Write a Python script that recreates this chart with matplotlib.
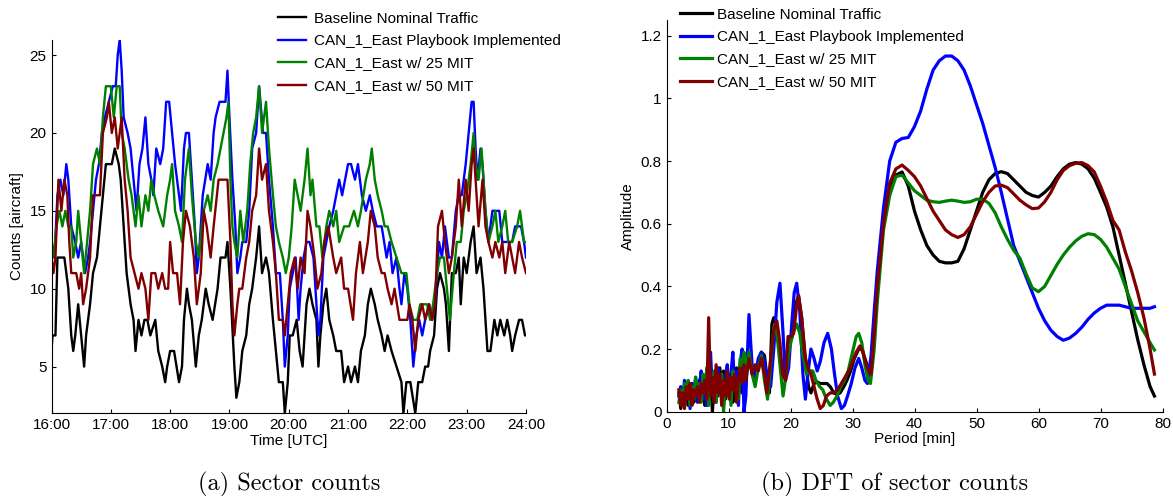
import numpy as np
import matplotlib
matplotlib.use('Agg')
import matplotlib.pyplot as plt

LABELS = ['Baseline Nominal Traffic', 'CAN_1_East Playbook Implemented',
          'CAN_1_East w/ 25 MIT', 'CAN_1_East w/ 50 MIT']
COLORS = ['#000000', '#0000ff', '#008000', '#800000']

# ---- (a) sector counts: minutes after 16:00 UTC, aircraft count ----
base_min = [0, 1, 4, 6, 13, 17, 20, 22, 24, 27, 30, 33, 35, 39, 42, 46, 49, 52, 55, 61, 64, 68, 70, 73, 76, 80,
            83, 85, 88, 91, 94, 97, 100, 105, 108, 112, 115, 117, 120, 124, 129, 132, 134, 137, 139, 142, 146, 149,
            152, 156, 159, 163, 168, 171, 176, 178, 181, 185, 187, 190, 193, 197, 200, 203, 207, 210, 213, 217, 220,
            224, 227, 230, 234, 236, 239, 241, 244, 248, 251, 254, 256, 258, 261, 264, 268, 270, 272, 275, 278, 281,
            285, 288, 293, 296, 300, 303, 307, 310, 313, 317, 320, 323, 327, 330, 334, 337, 340, 344, 349, 354, 356,
            359, 363, 368, 371, 375, 378, 381, 383, 387, 390, 393, 397, 399, 402, 405, 409, 412, 414, 417, 420, 424,
            427, 430, 434, 437, 439, 441, 444, 446, 448, 451, 454, 458, 461, 464, 466, 469, 473, 476, 479, 480]
base_cnt = [6, 7, 7, 12, 12, 10, 7, 6, 7, 9, 7, 5, 7, 9, 11, 12, 14, 16, 18, 18, 19, 18, 17, 14, 11, 9,
            8, 6, 8, 7, 8, 8, 7, 8, 6, 5, 4, 5, 6, 6, 4, 5, 8, 10, 9, 8, 5, 7,
            8, 10, 9, 8, 10, 12, 12, 13, 10, 5, 3, 4, 6, 7, 9, 10, 12, 14, 11, 12, 11,
            8, 6, 4, 4, 2, 4, 7, 7, 8, 6, 5, 7, 9, 10, 9, 8, 5, 7, 9, 10, 8,
            7, 6, 6, 4, 5, 4, 5, 4, 6, 7, 9, 10, 9, 8, 7, 6, 7, 6, 5, 4, 2,
            4, 4, 2, 4, 4, 5, 5, 6, 7, 10, 11, 10, 9, 6, 11, 11, 12, 9, 12, 11, 13,
            14, 11, 12, 10, 8, 6, 6, 7, 8, 7, 8, 7, 8, 7, 6, 7, 8, 8, 7, 7]

play_min = [0, 3, 6, 9, 12, 15, 17, 20, 24, 27, 30, 34, 37, 39, 42, 45, 48, 51, 54, 58, 62, 65, 67, 69, 71, 73,
            77, 80, 83, 86, 89, 92, 95, 98, 101, 103, 106, 110, 113, 116, 119, 122, 125, 129, 131, 134, 136, 139,
            142, 145, 147, 149, 151, 153, 158, 161, 164, 166, 170, 176, 178, 180, 183, 186, 188, 191, 193, 197, 200,
            203, 207, 210, 214, 217, 220, 224, 227, 231, 234, 236, 239, 241, 244, 247, 250, 252, 255, 258, 261, 265,
            268, 270, 272, 275, 278, 281, 285, 288, 291, 294, 297, 300, 303, 307, 310, 314, 318, 322, 325, 329, 334,
            339, 342, 345, 349, 352, 354, 357, 360, 363, 366, 369, 372, 375, 378, 382, 385, 388, 392, 395, 398, 402,
            405, 409, 412, 415, 419, 422, 425, 427, 429, 431, 434, 436, 439, 442, 446, 449, 453, 456, 459, 463, 466,
            469, 475, 478, 480]
play_cnt = [13, 12, 16, 17, 16, 18, 17, 14, 13, 12, 13, 11, 12, 13, 15, 17, 18, 20, 21, 22, 23, 23, 25, 26, 24, 21,
            20, 19, 17, 15, 18, 19, 21, 18, 17, 16, 19, 18, 19, 22, 22, 20, 18, 16, 15, 19, 20, 20,
            17, 14, 11, 12, 14, 16, 18, 17, 20, 21, 22, 22, 24, 21, 17, 14, 11, 12, 13, 13, 15,
            19, 20, 23, 20, 20, 17, 14, 11, 11, 8, 5, 7, 10, 11, 12, 8, 10, 12, 13, 13, 12,
            9, 7, 8, 12, 13, 14, 15, 16, 17, 16, 17, 18, 18, 17, 18, 16, 15, 16, 15, 14, 14,
            12, 13, 11, 12, 10, 9, 11, 10, 8, 5, 7, 8, 7, 8, 9, 8, 9, 13, 12, 14, 12,
            12, 15, 16, 16, 18, 20, 22, 22, 19, 17, 19, 18, 15, 13, 15, 15, 15, 13, 13, 13, 13,
            14, 14, 13, 12]

mit25_min = [0, 2, 5, 8, 11, 14, 17, 20, 22, 25, 27, 30, 33, 36, 39, 42, 46, 49, 52, 55, 60, 63, 66, 69, 71, 74,
             78, 81, 85, 88, 91, 95, 98, 101, 104, 108, 113, 117, 120, 122, 125, 129, 132, 135, 139, 142, 146, 149,
             152, 154, 158, 161, 164, 168, 171, 174, 177, 179, 181, 183, 185, 188, 191, 194, 198, 201, 204, 207, 210,
             213, 217, 220, 224, 227, 230, 234, 237, 240, 243, 246, 249, 252, 256, 259, 262, 264, 268, 271, 274, 278,
             281, 285, 288, 291, 296, 301, 306, 310, 313, 318, 322, 324, 327, 330, 334, 337, 340, 344, 349, 354, 359,
             362, 366, 370, 373, 376, 380, 383, 386, 390, 393, 397, 400, 403, 407, 410, 414, 417, 420, 424, 427, 429,
             432, 435, 439, 442, 446, 449, 452, 456, 459, 462, 466, 471, 474, 478, 480]
mit25_cnt = [13, 12, 14, 15, 14, 15, 14, 14, 12, 13, 15, 13, 11, 13, 15, 18, 19, 18, 21, 23, 23, 21, 23, 23, 20, 19,
             17, 16, 14, 16, 14, 16, 15, 17, 16, 15, 14, 16, 17, 18, 15, 14, 13, 17, 19, 16, 13, 12,
             14, 15, 16, 15, 17, 18, 19, 20, 21, 22, 17, 14, 13, 12, 15, 13, 15, 18, 20, 21, 23,
             20, 22, 19, 16, 14, 13, 12, 11, 12, 14, 17, 16, 15, 17, 19, 16, 17, 14, 14, 12, 14,
             15, 14, 15, 13, 14, 14, 15, 14, 15, 17, 18, 19, 17, 16, 15, 14, 14, 13, 12, 11, 11,
             9, 8, 8, 9, 9, 9, 8, 9, 11, 12, 12, 10, 8, 11, 13, 13, 15, 16, 18, 20, 18,
             17, 19, 15, 13, 14, 15, 13, 14, 15, 13, 13, 14, 15, 13, 13]

mit50_min = [0, 2, 4, 7, 10, 13, 16, 18, 20, 25, 28, 30, 32, 35, 39, 42, 46, 49, 52, 56, 58, 61, 64, 67, 71, 74,
             77, 80, 84, 88, 91, 95, 98, 101, 105, 108, 112, 115, 118, 120, 123, 127, 130, 133, 136, 140, 144, 147,
             151, 154, 157, 161, 164, 169, 175, 178, 181, 183, 185, 188, 190, 193, 197, 200, 203, 207, 210, 213, 217,
             220, 224, 227, 230, 234, 236, 239, 242, 246, 249, 252, 256, 259, 262, 266, 269, 273, 276, 280, 285, 288,
             293, 296, 300, 305, 308, 312, 315, 320, 323, 327, 330, 334, 337, 340, 344, 347, 352, 357, 360, 362, 365,
             368, 371, 375, 378, 382, 385, 388, 391, 395, 398, 402, 405, 409, 412, 415, 419, 422, 425, 427, 430, 432,
             436, 439, 442, 446, 449, 453, 456, 459, 463, 466, 469, 473, 476, 480]
mit50_cnt = [12, 11, 12, 17, 15, 17, 16, 13, 11, 11, 10, 11, 9, 10, 12, 16, 16, 16, 20, 21, 22, 20, 21, 19, 21, 17,
             15, 12, 11, 10, 11, 10, 8, 11, 11, 10, 11, 10, 10, 13, 11, 11, 9, 13, 15, 14, 12, 9,
             11, 15, 14, 12, 14, 17, 17, 17, 13, 9, 7, 9, 10, 10, 12, 13, 15, 16, 19, 17, 18,
             15, 13, 11, 8, 8, 7, 9, 11, 12, 10, 12, 11, 15, 14, 12, 10, 11, 13, 14, 12, 11,
             12, 10, 10, 8, 11, 13, 11, 13, 15, 14, 12, 11, 11, 10, 9, 10, 8, 8, 8, 9, 8,
             6, 8, 9, 8, 9, 8, 9, 14, 15, 13, 11, 12, 14, 17, 14, 17, 15, 18, 19, 16, 14,
             17, 14, 13, 12, 13, 12, 13, 11, 13, 12, 11, 13, 12, 11]

# ---- (b) DFT amplitude vs period [min] ----
# short-period part, read every 0.3 min from 2 min
base_noise = [0.06, 0.01, 0.07, 0.03, 0.08, 0.02, 0.06, 0.09, 0.03, 0.07, 0.04, 0.10, 0.05, 0.08, 0.02, 0.11,
              0.06, 0.12, 0.00, 0.09, 0.13, 0.05, 0.14, 0.07, 0.13, 0.04, 0.10, 0.06, 0.12, 0.03, 0.09, 0.14,
              0.08, 0.15, 0.06, 0.12]
play_noise = [0.05, 0.08, 0.02, 0.10, 0.04, 0.07, 0.01, 0.09, 0.05, 0.11, 0.03, 0.08, 0.13, 0.04, 0.09, 0.02,
              0.12, 0.19, 0.06, 0.10, 0.03, 0.14, 0.08, 0.12, 0.02, 0.10, 0.15, 0.05, 0.12, 0.19, 0.07, 0.13,
              0.02, 0.16, 0.20, 0.00]
mit25_noise = [0.03, 0.07, 0.02, 0.09, 0.05, 0.10, 0.02, 0.08, 0.04, 0.11, 0.05, 0.09, 0.03, 0.12, 0.06, 0.14,
               0.02, 0.10, 0.07, 0.13, 0.03, 0.11, 0.06, 0.12, 0.00, 0.09, 0.05, 0.11, 0.02, 0.13, 0.07, 0.10,
               0.04, 0.17, 0.12, 0.19]
mit50_noise = [0.07, 0.02, 0.06, 0.01, 0.08, 0.04, 0.09, 0.02, 0.07, 0.05, 0.08, 0.03, 0.09, 0.06, 0.10, 0.04,
               0.30, 0.05, 0.11, 0.03, 0.15, 0.06, 0.12, 0.02, 0.10, 0.05, 0.13, 0.04, 0.11, 0.07, 0.12, 0.03,
               0.10, 0.14, 0.09, 0.15]

# longer periods
long_per = [34, 35, 36, 37, 38, 39, 40, 41, 42, 43, 44, 45, 46, 47, 48, 49, 50, 51, 52, 53, 54, 55, 56, 57, 58,
            59, 60, 61, 62, 63, 64, 65, 66, 67, 68, 69, 70, 71, 72, 73, 74, 75, 76, 77, 78, 78.7]
base_long = [0.40, 0.60, 0.71, 0.755, 0.765, 0.72, 0.64, 0.58, 0.53, 0.50, 0.48, 0.475, 0.475, 0.48, 0.52, 0.58,
             0.64, 0.70, 0.74, 0.76, 0.766, 0.76, 0.74, 0.72, 0.70, 0.69, 0.685, 0.70, 0.72, 0.75, 0.775, 0.79,
             0.795, 0.79, 0.775, 0.745, 0.70, 0.653, 0.59, 0.50, 0.41, 0.32, 0.23, 0.15, 0.08, 0.05]
play_long = [0.45, 0.65, 0.80, 0.86, 0.872, 0.875, 0.91, 0.96, 1.03, 1.09, 1.12, 1.135, 1.135, 1.12, 1.09, 1.04,
             0.98, 0.92, 0.85, 0.78, 0.70, 0.615, 0.53, 0.48, 0.43, 0.38, 0.33, 0.29, 0.26, 0.24, 0.228, 0.235,
             0.25, 0.27, 0.295, 0.315, 0.33, 0.34, 0.34, 0.34, 0.335, 0.33, 0.33, 0.33, 0.33, 0.335]
mit25_long = [0.35, 0.58, 0.69, 0.75, 0.755, 0.73, 0.705, 0.69, 0.675, 0.67, 0.668, 0.672, 0.675, 0.672, 0.668,
              0.67, 0.678, 0.678, 0.665, 0.635, 0.59, 0.55, 0.515, 0.49, 0.44, 0.395, 0.383, 0.40, 0.435, 0.47,
              0.50, 0.525, 0.545, 0.56, 0.568, 0.565, 0.55, 0.525, 0.49, 0.455, 0.40, 0.345, 0.29, 0.255, 0.22,
              0.197]
mit50_long = [0.40, 0.60, 0.73, 0.775, 0.787, 0.77, 0.75, 0.72, 0.68, 0.64, 0.61, 0.58, 0.565, 0.556, 0.565, 0.59,
              0.63, 0.67, 0.70, 0.72, 0.723, 0.715, 0.695, 0.675, 0.66, 0.648, 0.65, 0.67, 0.70, 0.74, 0.77,
              0.785, 0.793, 0.795, 0.785, 0.765, 0.72, 0.67, 0.61, 0.58, 0.51, 0.45, 0.38, 0.30, 0.20, 0.12]

# middle periods (oscillating part), read at turning points
base_mid_p = [12.8, 13.3, 13.8, 14.3, 14.8, 15.3, 15.8, 16.3, 16.6, 17.0, 17.3, 17.8, 18.3, 18.8, 19.3, 19.8, 20.3,
              20.8, 21.3, 21.8, 22.4, 22.9, 23.3, 23.8, 24.3, 24.8, 25.4, 25.9, 26.4, 27.0, 27.5, 28.0, 28.6, 29.1,
              29.7, 30.3, 31.0, 31.5, 32.0, 32.5, 32.9, 33.5]
base_mid_a = [0.12, 0.18, 0.14, 0.10, 0.16, 0.19, 0.18, 0.09, 0.06, 0.28, 0.30, 0.27, 0.18, 0.12, 0.18, 0.22, 0.24,
              0.34, 0.37, 0.30, 0.17, 0.08, 0.06, 0.09, 0.095, 0.09, 0.09, 0.09, 0.08, 0.06, 0.055, 0.06, 0.08, 0.10,
              0.13, 0.17, 0.20, 0.20, 0.17, 0.14, 0.13, 0.25]
play_mid_p = [12.8, 13.3, 13.8, 14.3, 14.8, 15.3, 15.8, 16.3, 16.8, 17.3, 17.8, 18.3, 18.8, 19.2, 19.7, 20.2, 20.6,
              21.0, 21.5, 22.0, 22.4, 22.8, 23.3, 23.8, 24.3, 24.8, 25.4, 26.0, 26.6, 27.1, 27.6, 28.2, 28.7, 29.2,
              29.8, 30.4, 31.0, 31.5, 32.0, 32.4, 33.0, 33.5]
play_mid_a = [0.05, 0.31, 0.15, 0.10, 0.17, 0.19, 0.16, 0.10, 0.08, 0.20, 0.35, 0.41, 0.25, 0.10, 0.14, 0.28, 0.38,
              0.41, 0.32, 0.12, 0.04, 0.12, 0.20, 0.17, 0.13, 0.16, 0.22, 0.25, 0.20, 0.12, 0.05, 0.01, 0.02, 0.05,
              0.09, 0.14, 0.17, 0.14, 0.10, 0.09, 0.18, 0.32]
mit25_mid_p = [12.8, 13.3, 13.8, 14.3, 14.8, 15.3, 15.8, 16.3, 16.8, 17.3, 17.8, 18.3, 18.8, 19.3, 19.8, 20.4, 21.0,
               21.5, 22.0, 22.6, 23.1, 23.6, 24.1, 24.7, 25.2, 25.8, 26.4, 26.9, 27.5, 28.1, 28.7, 29.3, 30.0, 30.6,
               31.0, 31.5, 32.0, 32.5, 32.9, 33.5]
mit25_mid_a = [0.14, 0.19, 0.12, 0.08, 0.14, 0.18, 0.10, 0.04, 0.15, 0.27, 0.25, 0.15, 0.05, 0.12, 0.20, 0.25, 0.28,
               0.25, 0.18, 0.12, 0.13, 0.13, 0.10, 0.08, 0.07, 0.04, 0.02, 0.03, 0.05, 0.08, 0.10, 0.13, 0.19, 0.24,
               0.25, 0.22, 0.15, 0.10, 0.09, 0.20]
mit50_mid_p = [12.8, 13.3, 13.8, 14.3, 14.8, 15.3, 15.8, 16.2, 16.7, 17.3, 17.8, 18.3, 18.7, 19.2, 19.6, 20.1, 20.5,
               21.0, 21.3, 21.8, 22.3, 22.8, 23.3, 23.8, 24.3, 24.8, 25.3, 25.8, 26.4, 27.0, 27.6, 28.2, 28.8, 29.4,
               30.0, 30.6, 31.2, 31.7, 32.2, 32.6, 33.0, 33.5]
mit50_mid_a = [0.10, 0.17, 0.12, 0.15, 0.13, 0.17, 0.12, 0.06, 0.15, 0.26, 0.29, 0.22, 0.12, 0.10, 0.24, 0.24, 0.25,
               0.34, 0.37, 0.30, 0.18, 0.14, 0.12, 0.08, 0.04, 0.01, 0.02, 0.05, 0.06, 0.06, 0.07, 0.09, 0.11, 0.13,
               0.16, 0.19, 0.21, 0.19, 0.15, 0.13, 0.12, 0.25]

FS = 11


def style_axes(ax):
    ax.spines['top'].set_visible(False)
    ax.spines['right'].set_visible(False)
    ax.tick_params(direction='in', length=3, labelsize=FS, width=0.8)


def main():
    plt.rcParams['font.family'] = ['Liberation Sans', 'DejaVu Sans']
    fig = plt.figure(figsize=(11.73, 4.96), dpi=100)

    # (a) sector counts
    ax1 = fig.add_axes([51.5 / 1173, 1 - 413.3 / 496, 474.5 / 1173, 373.8 / 496])
    series = [(base_min, base_cnt), (play_min, play_cnt), (mit25_min, mit25_cnt), (mit50_min, mit50_cnt)]
    for (m, c), lab, col in zip(series, LABELS, COLORS):
        t = 16 + np.array(m) / 60.0
        ax1.plot(t, c, color=col, lw=1.7, label=lab)
    ax1.set_xlim(16, 24)
    ax1.set_ylim(2, 26)
    ax1.set_xticks(range(16, 25))
    ax1.set_xticklabels(['%d:00' % h for h in range(16, 25)])
    ax1.set_yticks([5, 10, 15, 20, 25])
    style_axes(ax1)
    ax1.set_xlabel('Time [UTC]', fontsize=FS, labelpad=1)
    ax1.set_ylabel('Counts [aircraft]', fontsize=FS, labelpad=4)
    ax1.legend(loc='upper left', bbox_to_anchor=(270 / 1173, 1 - 4 / 496), bbox_transform=fig.transFigure,
               frameon=False, fontsize=FS, borderpad=0, handlelength=1.85, handletextpad=0.5,
               labelspacing=0.55)

    # (b) DFT
    ax2 = fig.add_axes([666.5 / 1173, 1 - 411.7 / 496, 496 / 1173, 391.7 / 496])
    dft = [(base_noise, base_mid_p, base_mid_a, base_long), (play_noise, play_mid_p, play_mid_a, play_long),
           (mit25_noise, mit25_mid_p, mit25_mid_a, mit25_long), (mit50_noise, mit50_mid_p, mit50_mid_a, mit50_long)]
    for (nz, mp, ma, lg), lab, col in zip(dft, LABELS, COLORS):
        p = np.concatenate([2.0 + 0.3 * np.arange(len(nz)), mp, long_per])
        a = np.concatenate([nz, ma, lg])
        ax2.plot(p, a, color=col, lw=2.3, label=lab)
    ax2.set_xlim(0, 80)
    ax2.set_ylim(0, 1.25)
    ax2.set_xticks(range(0, 81, 10))
    ax2.set_yticks([0, 0.2, 0.4, 0.6, 0.8, 1, 1.2])
    ax2.set_yticklabels(['0', '0.2', '0.4', '0.6', '0.8', '1', '1.2'])
    style_axes(ax2)
    ax2.set_xlabel('Period [min]', fontsize=FS, labelpad=1)
    ax2.set_ylabel('Amplitude', fontsize=FS, labelpad=4)
    ax2.legend(loc='upper left', bbox_to_anchor=(672 / 1173, 1 - 0 / 496), bbox_transform=fig.transFigure,
               frameon=False, fontsize=FS, borderpad=0, handlelength=2.1, handletextpad=0.35,
               labelspacing=0.55)

    fig.text(289 / 1173, 1 - 484 / 496, '(a) Sector counts', ha='center', va='center',
             family='cmr10', fontsize=17.5)
    fig.text(895 / 1173, 1 - 484 / 496, '(b) DFT of sector counts', ha='center', va='center',
             family='cmr10', fontsize=17.5)

    fig.savefig('out.png', dpi=100)


if __name__ == '__main__':
    main()
